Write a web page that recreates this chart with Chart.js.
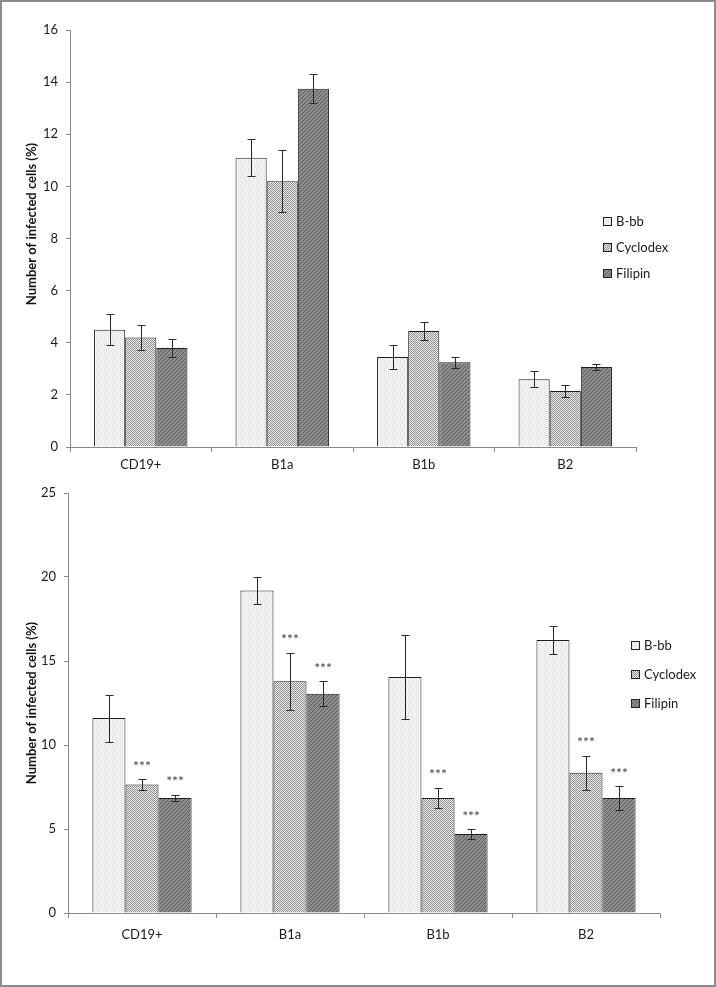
<!DOCTYPE html>
<html>
<head>
<meta charset="utf-8">
<script src="https://cdn.jsdelivr.net/npm/chart.js@4.4.1/dist/chart.umd.min.js"></script>
<style>
    body { margin: 0; background: #fff; }
    #frame { position: absolute; left: 0; top: 0; width: 716px; height: 987px; box-sizing: border-box; border: 2px solid #8c8c8c; }
    canvas { position: absolute; left: 0; }
    #chartTop { top: 0; }
    #chartBottom { top: 460px; }
</style>
</head>
<body>
<div id="frame"></div>
<canvas id="chartTop" width="716" height="490"></canvas>
<canvas id="chartBottom" width="716" height="527"></canvas>
<script>
const categories = ["CD19+", "B1a", "B1b", "B2"];
const seriesNames = ["B-bb", "Cyclodex", "Filipin"];

// upper panel
const topBbb = [4.5, 11.1, 3.45, 2.6];
const topBbbErr = [0.6, 0.7, 0.45, 0.3];
const topCyc = [4.2, 10.2, 4.45, 2.15];
const topCycErr = [0.48, 1.2, 0.35, 0.23];
const topFil = [3.8, 13.75, 3.25, 3.07];
const topFilErr = [0.35, 0.55, 0.22, 0.1];
const topTicks = [0, 2, 4, 6, 8, 10, 12, 14, 16];

// lower panel
const botBbb = [11.6, 19.2, 14.05, 16.25];
const botBbbErr = [1.4, 0.8, 2.5, 0.85];
const botCyc = [7.65, 13.8, 6.85, 8.35];
const botCycErr = [0.3, 1.7, 0.6, 1.0];
const botFil = [6.85, 13.05, 4.7, 6.85];
const botFilErr = [0.2, 0.75, 0.3, 0.7];
const botTicks = [0, 5, 10, 15, 20, 25];

const yTitle = "Number of infected cells (%)";
const starMark = "***";

const FONT = "Lato, 'Open Sans', sans-serif";

function makePattern(ctx, bg, fg, cells) {
    const c = document.createElement("canvas");
    c.width = 4;
    c.height = 4;
    const g = c.getContext("2d");
    g.fillStyle = bg;
    g.fillRect(0, 0, 4, 4);
    g.fillStyle = fg;
    cells.forEach(function (p) { g.fillRect(p[0], p[1], 1, 1); });
    return ctx.createPattern(c, "repeat");
}

function seriesPatterns(ctx) {
    return [
        makePattern(ctx, "#f5f5f5", "#dcdcdc", [[0, 0], [2, 1], [0, 2], [2, 3]]),
        makePattern(ctx, "#efefef", "#8f8f8f", [[0, 0], [2, 0], [1, 1], [3, 1], [0, 2], [2, 2], [1, 3], [3, 3]]),
        makePattern(ctx, "#8c8c8c", "#5e5e5e", [[0, 3], [1, 2], [2, 1], [3, 0]])
    ];
}

const errorBars = {
    id: "errorBars",
    afterDatasetsDraw(chart, args, opts) {
        const ctx = chart.ctx;
        const y = chart.scales.y;
        ctx.save();
        ctx.strokeStyle = "#2a2a2a";
        ctx.lineWidth = 1;
        opts.errors.forEach(function (errs, d) {
            chart.getDatasetMeta(d).data.forEach(function (bar, i) {
                const v = chart.data.datasets[d].data[i];
                const x = Math.round(bar.x) + 0.5;
                const hi = Math.round(y.getPixelForValue(v + errs[i])) + 0.5;
                const lo = Math.round(y.getPixelForValue(v - errs[i])) + 0.5;
                ctx.beginPath();
                ctx.moveTo(x, hi); ctx.lineTo(x, lo);
                ctx.moveTo(x - 4, hi); ctx.lineTo(x + 4, hi);
                ctx.moveTo(x - 4, lo); ctx.lineTo(x + 4, lo);
                ctx.stroke();
            });
        });
        ctx.restore();
    }
};

const stars = {
    id: "stars",
    afterDatasetsDraw(chart, args, opts) {
        if (!opts.series) return;
        const ctx = chart.ctx;
        const y = chart.scales.y;
        ctx.save();
        ctx.fillStyle = "#444";
        ctx.font = "14px " + FONT;
        ctx.textAlign = "center";
        ctx.textBaseline = "middle";
        opts.series.forEach(function (d) {
            chart.getDatasetMeta(d).data.forEach(function (bar, i) {
                const v = chart.data.datasets[d].data[i];
                const top = y.getPixelForValue(v + opts.errors[d][i]);
                ctx.fillText(starMark, bar.x, top - 13);
            });
        });
        ctx.restore();
    }
};

const sideLegend = {
    id: "sideLegend",
    afterDraw(chart, args, opts) {
        const ctx = chart.ctx;
        ctx.save();
        ctx.font = "13px " + FONT;
        ctx.textBaseline = "middle";
        chart.data.datasets.forEach(function (ds, i) {
            const cy = opts.y + i * opts.gap;
            ctx.fillStyle = ds.backgroundColor;
            ctx.fillRect(opts.x, cy - 4, 8, 8);
            ctx.strokeStyle = "#222";
            ctx.lineWidth = 1;
            ctx.strokeRect(opts.x + 0.5, cy - 3.5, 8, 8);
            ctx.fillStyle = "#1a1a1a";
            ctx.fillText(ds.label, opts.x + 13, cy + 1);
        });
        ctx.restore();
    }
};

const axisTitle = {
    id: "axisTitle",
    afterDraw(chart, args, opts) {
        const ctx = chart.ctx;
        ctx.save();
        ctx.translate(opts.x, opts.y);
        ctx.rotate(-Math.PI / 2);
        ctx.font = "bold 13px " + FONT;
        ctx.fillStyle = "#111";
        ctx.textAlign = "center";
        ctx.textBaseline = "middle";
        ctx.fillText(yTitle, 0, 0);
        ctx.restore();
    }
};

function createChart(canvasId, values, errors, ticks, box) {
    const canvas = document.getElementById(canvasId);
    const ctx = canvas.getContext("2d");
    const patterns = seriesPatterns(ctx);

    return new Chart(canvas, {
        type: "bar",
        data: {
            labels: categories,
            datasets: values.map(function (v, i) {
                return {
                    label: seriesNames[i],
                    data: v,
                    backgroundColor: patterns[i],
                    borderColor: "#1e1e1e",
                    borderWidth: 1,
                    categoryPercentage: box.groupWidth,
                    barPercentage: 1.0
                };
            })
        },
        options: {
            responsive: false,
            animation: false,
            layout: { padding: { left: 0, right: box.padRight, top: box.padTop, bottom: 0 } },
            plugins: {
                legend: { display: false },
                tooltip: { enabled: false },
                errorBars: { errors: errors },
                stars: { series: box.starSeries, errors: errors },
                sideLegend: { x: box.legendX, y: box.legendY, gap: box.legendGap },
                axisTitle: { x: 32, y: box.titleY }
            },
            scales: {
                x: {
                    grid: { display: true, drawOnChartArea: false, drawTicks: true, tickLength: 5, color: "#8a8a8a" },
                    border: { color: "#8a8a8a" },
                    ticks: { color: "#1a1a1a", font: { family: FONT, size: 13 }, padding: box.xPad },
                    afterFit: function (scale) { scale.height = box.xHeight; }
                },
                y: {
                    min: 0,
                    max: ticks[ticks.length - 1],
                    afterBuildTicks: function (scale) {
                        scale.ticks = ticks.map(function (t) { return { value: t }; });
                    },
                    grid: { display: true, drawOnChartArea: false, drawTicks: true, tickLength: 4, color: "#8a8a8a" },
                    border: { color: "#8a8a8a" },
                    ticks: { color: "#1a1a1a", font: { family: FONT, size: 13 }, padding: 8 },
                    afterFit: function (scale) { scale.width = box.yWidth; }
                }
            }
        },
        plugins: [errorBars, stars, sideLegend, axisTitle]
    });
}

createChart("chartTop", [topBbb, topCyc, topFil], [topBbbErr, topCycErr, topFilErr], topTicks, {
    groupWidth: 0.66, padRight: 80, padTop: 30, yWidth: 70, xHeight: 43, xPad: 5,
    legendX: 603, legendY: 221, legendGap: 26, titleY: 224, starSeries: null
});

createChart("chartBottom", [botBbb, botCyc, botFil], [botBbbErr, botCycErr, botFilErr], botTicks, {
    groupWidth: 0.67, padRight: 56, padTop: 33, yWidth: 68, xHeight: 74, xPad: 9,
    legendX: 631, legendY: 185, legendGap: 29, titleY: 243, starSeries: [1, 2]
});
</script>
</body>
</html>
